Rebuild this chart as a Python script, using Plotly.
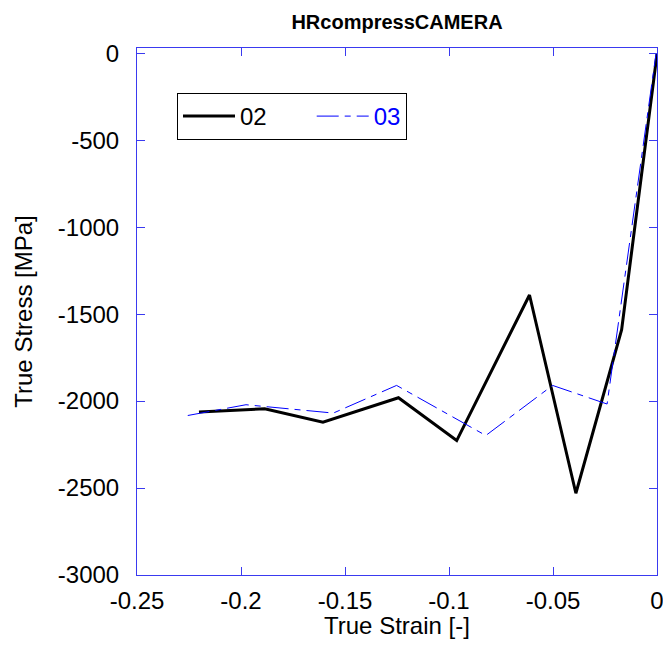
import plotly.graph_objects as go

strain_02 = [-0.2202, -0.1886, -0.1606, -0.1243, -0.0963, -0.0613, -0.0390, -0.0170, 0.0]
stress_02 = [-2063, -2044, -2121, -1981, -2227, -1390, -2530, -1590, -5]

strain_03 = [-0.2256, -0.1976, -0.1556, -0.1252, -0.0823, -0.0502, -0.0240, -0.0005]
stress_03 = [-2083, -2021, -2069, -1910, -2198, -1910, -2017, -5]

x_ticks = [-0.25, -0.2, -0.15, -0.1, -0.05, 0]
x_ticktext = ["-0.25", "-0.2", "-0.15", "-0.1", "-0.05", "0"]
y_ticks = [0, -500, -1000, -1500, -2000, -2500, -3000]
y_ticktext = ["0", "-500", "-1000", "-1500", "-2000", "-2500", "-3000"]

AX = "#3a3af0"
FONT = "Liberation Sans, Arial, sans-serif"

fig = go.Figure()
fig.add_trace(go.Scatter(x=strain_02, y=stress_02, mode="lines",
                         name="02\u00a0\u00a0\u00a0\u00a0\u00a0\u00a0",
                         line=dict(color="black", width=3)))
fig.add_trace(go.Scatter(x=strain_03, y=stress_03, mode="lines",
                         name="<span style='color:#0000ff'>03</span>",
                         line=dict(color="#0000ff", width=1, dash="22px,6px,6px,6px")))

fig.update_layout(
    width=663, height=668,
    margin=dict(l=137, r=6, t=48, b=93),
    paper_bgcolor="white", plot_bgcolor="white",
    font=dict(family=FONT, color="black", size=24),
    title=dict(text="<b>HRcompressCAMERA</b>", x=397 / 663, xanchor="center",
               y=1 - 22 / 668, yanchor="middle", font=dict(size=20, family=FONT)),
    showlegend=True,
    legend=dict(orientation="h", x=(177 - 137) / 520, y=1 - (93 - 48) / 527,
                xanchor="left", yanchor="top",
                bordercolor="black", borderwidth=1, bgcolor="white",
                font=dict(size=24, family=FONT), itemwidth=52,
                traceorder="normal"),
    annotations=[dict(text="True Strain [-]", xref="paper", yref="paper",
                      x=0.5, y=-50 / 527, xanchor="center", yanchor="middle",
                      showarrow=False, font=dict(size=24, family=FONT, color="black"))],
)
fig.update_xaxes(range=[-0.25, 0], tickvals=x_ticks, ticktext=x_ticktext,
                 showgrid=False, zeroline=False, showline=True, linecolor=AX, linewidth=1,
                 mirror="allticks", ticks="inside", ticklen=8, tickcolor=AX,
                 tickfont=dict(size=24), ticklabelstandoff=4, ticklabeloverflow="allow",
                 automargin=False)
fig.update_yaxes(range=[-3000, 30], tickvals=y_ticks, ticktext=y_ticktext,
                 showgrid=False, zeroline=False, showline=True, linecolor=AX, linewidth=1,
                 mirror="allticks", ticks="inside", ticklen=8, tickcolor=AX,
                 tickfont=dict(size=24), ticklabelstandoff=12,
                 title=dict(text="True Stress [MPa]", font=dict(size=24), standoff=18))

fig.write_html("out.html", config={"displayModeBar": False},
               post_script="document.body.style.margin='0';document.body.style.overflow='hidden';")
